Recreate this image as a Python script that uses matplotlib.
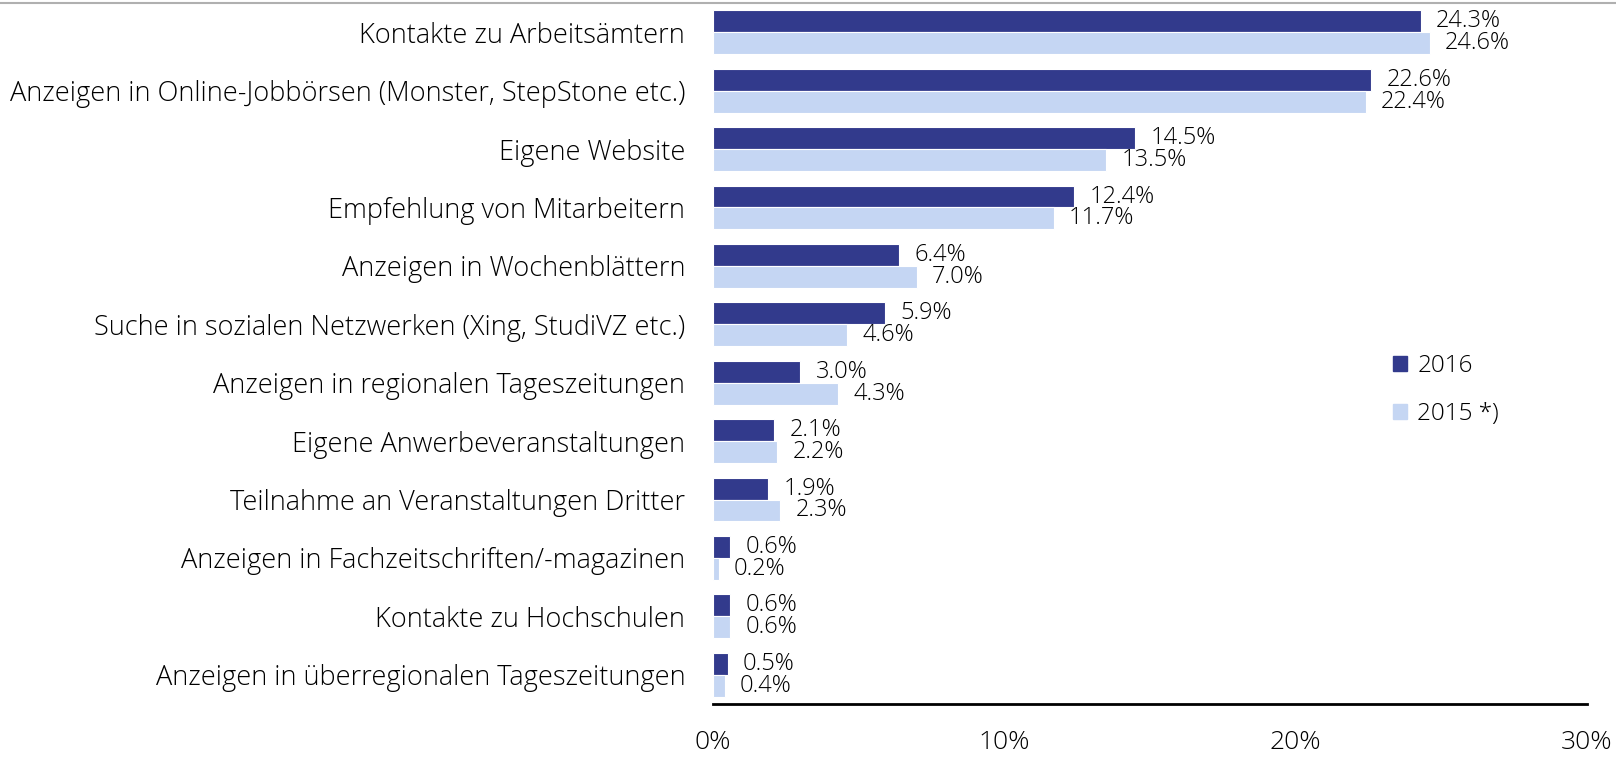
import matplotlib.pyplot as plt
from matplotlib.patches import Patch
from matplotlib.lines import Line2D
import numpy as np

categories = [
    "Kontakte zu Arbeitsämtern",
    "Anzeigen in Online-Jobbörsen (Monster, StepStone etc.)",
    "Eigene Website",
    "Empfehlung von Mitarbeitern",
    "Anzeigen in Wochenblättern",
    "Suche in sozialen Netzwerken (Xing, StudiVZ etc.)",
    "Anzeigen in regionalen Tageszeitungen",
    "Eigene Anwerbeveranstaltungen",
    "Teilnahme an Veranstaltungen Dritter",
    "Anzeigen in Fachzeitschriften/-magazinen",
    "Kontakte zu Hochschulen",
    "Anzeigen in überregionalen Tageszeitungen",
]
v2016 = [24.3, 22.6, 14.5, 12.4, 6.4, 5.9, 3.0, 2.1, 1.9, 0.6, 0.6, 0.5]
v2015 = [24.6, 22.4, 13.5, 11.7, 7.0, 4.6, 4.3, 2.2, 2.3, 0.2, 0.6, 0.4]
xticks = [0, 10, 20, 30]

dark = "#323a8c"
light = "#c5d6f3"
txt = "#000000"
plt.rcParams["font.family"] = ["Open Sans", "DejaVu Sans"]
plt.rcParams["font.weight"] = "light"

fig = plt.figure(figsize=(16.16, 7.59), dpi=100)
ax = fig.add_axes([713 / 1616, 55 / 759, 874 / 1616, 701 / 759])

y = np.arange(len(categories))
h = 0.375
b1 = ax.barh(y - h / 2, v2016, height=h, color=dark, edgecolor="white", linewidth=0.8)
b2 = ax.barh(y + h / 2, v2015, height=h, color=light, edgecolor="white", linewidth=0.8)

for bars, vals in ((b1, v2016), (b2, v2015)):
    for bar, v in zip(bars, vals):
        ax.annotate(f"{v:.1f}%", (bar.get_width(), bar.get_y() + bar.get_height() / 2),
                    xytext=(11, 0), textcoords="offset points", va="center", ha="left",
                    fontsize=17, color=txt)

ax.set_xlim(0, 30)
ax.set_ylim(len(categories) - 0.5, -0.5)
ax.set_yticks(y)
ax.set_yticklabels(categories, fontsize=19.5, color=txt)
ax.set_xticks(xticks)
ax.set_xticklabels([f"{t}%" for t in xticks], fontsize=19, color=txt)
ax.tick_params(axis="y", length=0, pad=20)
ax.tick_params(axis="x", length=0, pad=19)
for s in ("top", "left", "right"):
    ax.spines[s].set_visible(False)
ax.spines["bottom"].set_linewidth(2)
ax.spines["bottom"].set_color("black")

ax.legend(handles=[Patch(color=dark, label="2016"), Patch(color=light, label="2015 *)")],
          loc="upper left", bbox_to_anchor=(1371 / 1616, 1 - 332 / 759),
          bbox_transform=fig.transFigure, frameon=False, fontsize=17.5,
          handlelength=0.6, handleheight=0.6, handletextpad=0.4, labelspacing=1.0,
          labelcolor=txt)

fig.add_artist(Line2D([0, 1], [1 - 3 / 759, 1 - 3 / 759], transform=fig.transFigure,
                      color="#b0b0b0", linewidth=1.5))

fig.savefig("out.png", dpi=100)
